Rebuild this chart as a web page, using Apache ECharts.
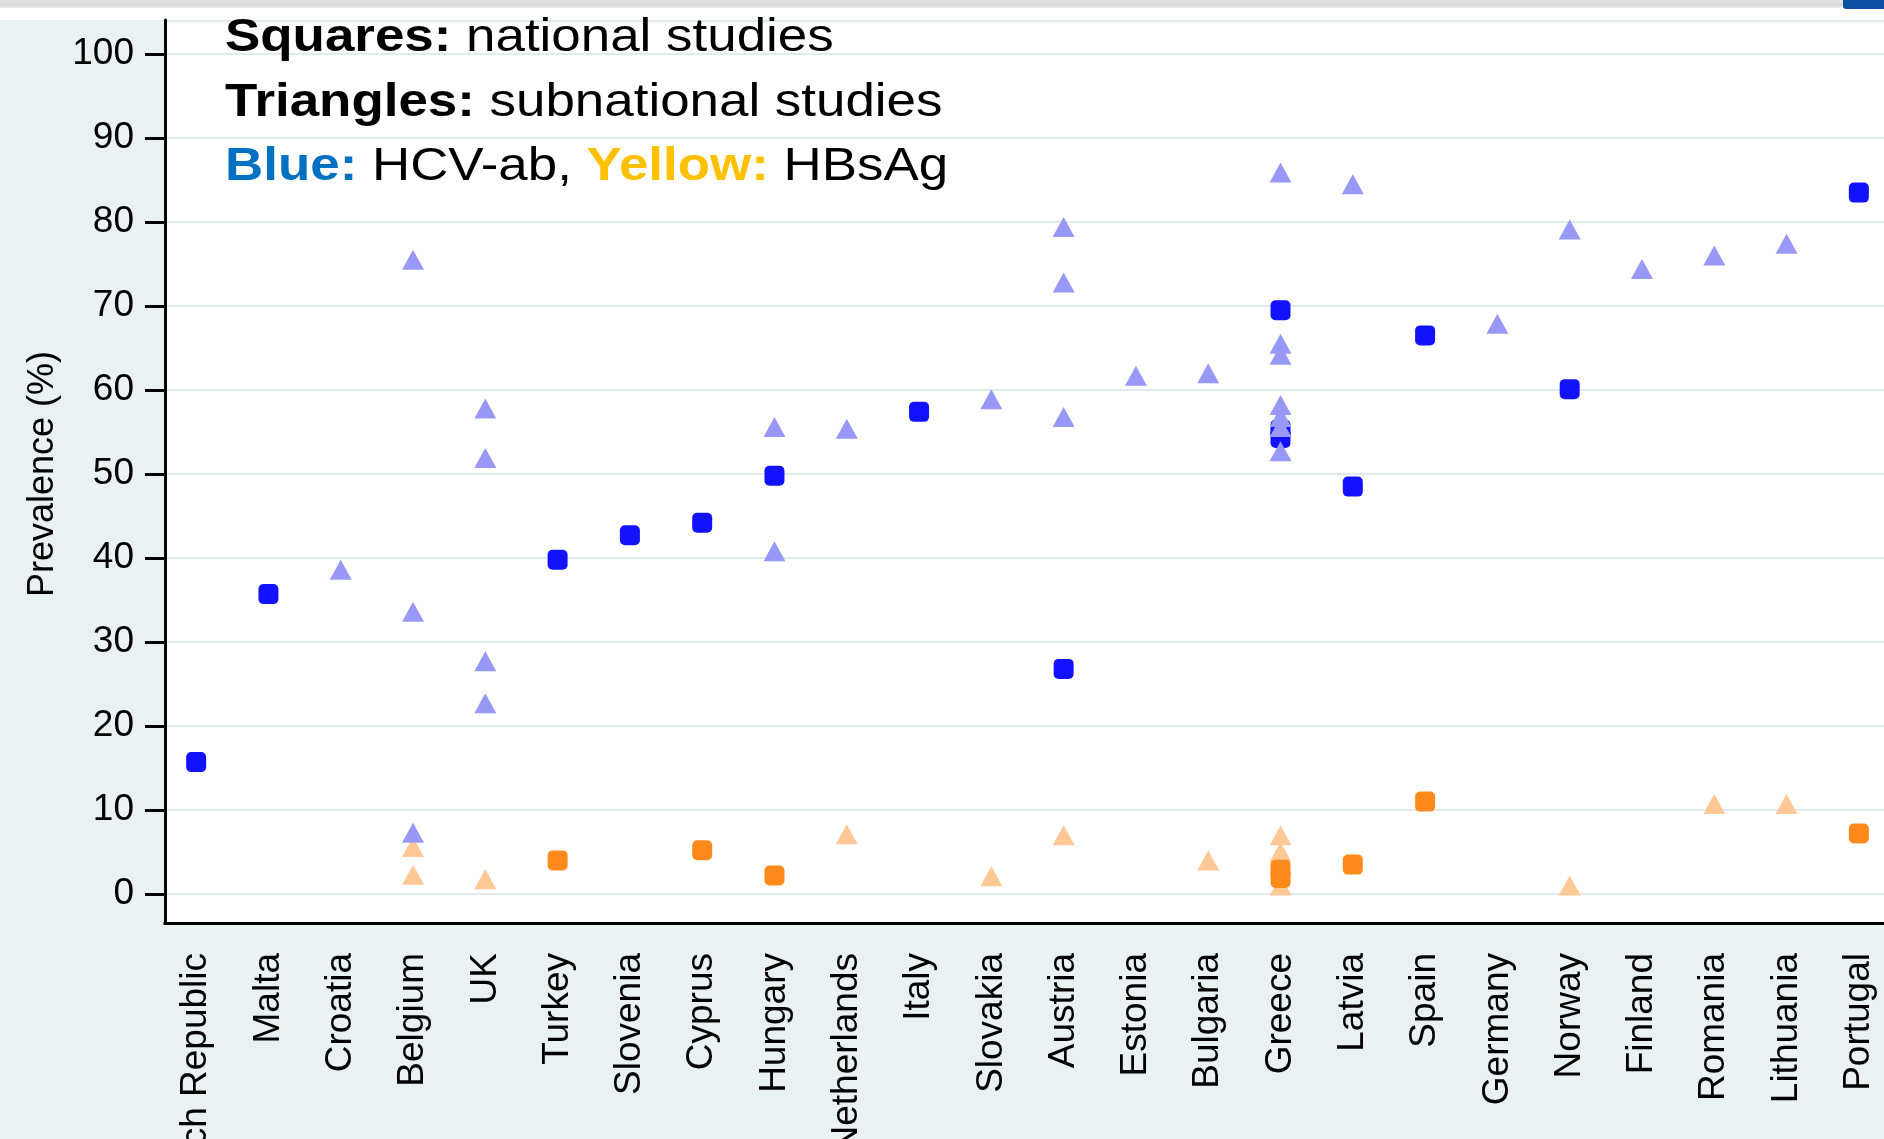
<!DOCTYPE html>
<html>
<head>
<meta charset="utf-8">
<script src="https://cdn.jsdelivr.net/npm/echarts@6/dist/echarts.min.js"></script>
<style>
  html, body { margin: 0; padding: 0; background: #fff; }
  #chart { width: 1884px; height: 1139px; }
</style>
</head>
<body>
<div id="chart"></div>
<script>
// countries along the x axis, left to right
const categories = ['Czech Republic', 'Malta', 'Croatia', 'Belgium', 'UK', 'Turkey', 'Slovenia', 'Cyprus',
  'Hungary', 'Netherlands', 'Italy', 'Slovakia', 'Austria', 'Estonia', 'Bulgaria', 'Greece', 'Latvia',
  'Spain', 'Germany', 'Norway', 'Finland', 'Romania', 'Lithuania', 'Portugal']

// y axis ticks
const yMin = 0
const yMax = 100
const yStep = 10

// HCV-ab, national studies (squares)
const hcvNational = [
  ['Czech Republic', 15.7], ['Malta', 35.7], ['Turkey', 39.8], ['Slovenia', 42.7], ['Cyprus', 44.2],
  ['Hungary', 49.8], ['Italy', 57.4], ['Austria', 26.8], ['Greece', 69.5], ['Greece', 55.3],
  ['Greece', 54.3], ['Latvia', 48.5], ['Spain', 66.5], ['Norway', 60.1], ['Portugal', 83.5]
]
// HCV-ab, subnational studies (triangles)
const hcvSubnational = [
  ['Croatia', 38.6], ['Belgium', 75.5], ['Belgium', 33.6], ['Belgium', 7.3],
  ['UK', 57.8], ['UK', 51.9], ['UK', 27.7], ['UK', 22.7], ['Hungary', 55.6], ['Hungary', 40.8],
  ['Netherlands', 55.4], ['Slovakia', 58.9], ['Austria', 79.4], ['Austria', 72.8], ['Austria', 56.8],
  ['Estonia', 61.7], ['Bulgaria', 62.0], ['Greece', 85.9], ['Greece', 65.5], ['Greece', 64.2],
  ['Greece', 58.2], ['Greece', 56.8], ['Greece', 55.6], ['Greece', 52.7], ['Latvia', 84.5],
  ['Germany', 67.9], ['Norway', 79.1], ['Finland', 74.4], ['Romania', 76.0], ['Lithuania', 77.4]
]
// HBsAg, national studies (squares)
const hbsNational = [
  ['Turkey', 4.0], ['Cyprus', 5.2], ['Hungary', 2.2], ['Greece', 2.9], ['Greece', 1.9],
  ['Latvia', 3.5], ['Spain', 11.0], ['Portugal', 7.2]
]
// HBsAg, subnational studies (triangles)
const hbsSubnational = [
  ['Belgium', 5.6], ['Belgium', 2.3], ['UK', 1.75], ['Netherlands', 7.1], ['Slovakia', 2.1],
  ['Austria', 7.0], ['Bulgaria', 4.0], ['Greece', 7.0], ['Greece', 5.0], ['Greece', 1.0],
  ['Norway', 1.0], ['Romania', 10.7], ['Lithuania', 10.7]
]

const font = 'Liberation Sans, Arial, sans-serif'
const gridLeft = 160
const gridWidth = 1735

const chart = echarts.init(document.getElementById('chart'))

const scatter = (name, data, symbol, size, color) => ({
  name: name,
  type: 'scatter',
  xAxisIndex: 1,
  yAxisIndex: 1,
  data: data,
  symbol: symbol,
  symbolSize: size,
  itemStyle: { color: color, opacity: 1 },
  silent: true,
})

// legend text is a bit stretched sideways in the original
const rich = {
  b: { fontSize: 46, fontWeight: 'bold', fontFamily: font, fill: '#000' },
  n: { fontSize: 46, fontFamily: font, fill: '#000' },
  blue: { fontSize: 46, fontWeight: 'bold', fontFamily: font, fill: '#0070C0' },
  yel: { fontSize: 46, fontWeight: 'bold', fontFamily: font, fill: '#FFC000' },
}

const legendLine = (y, text) => ({
  type: 'text',
  x: 225,
  y: y,
  scaleX: 1.15,
  z: 100,
  style: {
    text: text,
    rich: rich,
    fontSize: 46,
    fontFamily: font,
    fill: '#000',
    verticalAlign: 'middle',
  },
})

chart.setOption({
  backgroundColor: '#E9F1F2',
  animation: false,
  grid: [
    // outer frame: x axis line + y axis line
    { left: gridLeft, top: 20, width: gridWidth, height: 903, outerBoundsMode: 'none', containLabel: false },
    // value frame: 0..100
    { left: gridLeft, top: 54, width: gridWidth, height: 840, outerBoundsMode: 'none', containLabel: false },
  ],
  xAxis: [
    {
      gridIndex: 0,
      type: 'category',
      data: categories,
      boundaryGap: true,
      axisLine: { lineStyle: { color: '#000', width: 3 } },
      axisTick: { alignWithLabel: true, length: 20, lineStyle: { color: '#000', width: 3 } },
      axisLabel: { rotate: 90, interval: 0, margin: 30, fontSize: 37, fontFamily: font, color: '#000' },
      splitLine: { show: false },
    },
    {
      gridIndex: 1,
      type: 'category',
      data: categories,
      boundaryGap: true,
      show: false,
    },
  ],
  yAxis: [
    {
      gridIndex: 0,
      type: 'value',
      min: 0,
      max: 1,
      offset: -5,
      axisLine: { show: true, lineStyle: { color: '#000', width: 3 } },
      axisTick: { show: false },
      axisLabel: { show: false },
      splitLine: { show: false },
    },
    {
      gridIndex: 1,
      type: 'value',
      min: yMin,
      max: yMax,
      interval: yStep,
      offset: -5,
      name: 'Prevalence (%)',
      nameLocation: 'middle',
      nameGap: 99,
      nameTextStyle: { fontSize: 36, fontFamily: font, color: '#000' },
      axisLine: { show: false },
      axisTick: { show: true, length: 20, lineStyle: { color: '#000', width: 3 } },
      axisLabel: { margin: 31, fontSize: 37, fontFamily: font, color: '#000' },
      splitLine: { show: true, lineStyle: { color: '#E0EBED', width: 2 } },
    },
  ],
  graphic: [
    { type: 'rect', z: -10, shape: { x: 0, y: 0, width: 1884, height: 20 }, style: { fill: '#fff' } },
    {
      type: 'rect', z: -9, shape: { x: 0, y: 0, width: 1884, height: 8 },
      style: {
        fill: new echarts.graphic.LinearGradient(0, 0, 0, 1, [
          { offset: 0, color: '#E6E6E6' }, { offset: 0.6, color: '#D8D8D8' }, { offset: 1, color: '#EFEFEF' },
        ]),
      },
    },
    { type: 'rect', z: -8, shape: { x: 1843, y: 0, width: 41, height: 9, r: [0, 0, 0, 3] }, style: { fill: '#0B4FA3' } },
    { type: 'rect', z: -10, shape: { x: 165, y: 20, width: 1719, height: 903 }, style: { fill: '#fff' } },
    { type: 'line', z: -5, shape: { x1: 165, y1: 21, x2: 1884, y2: 21 }, style: { stroke: '#E0EBED', lineWidth: 2 } },
    // hide the few pixels of x axis line left of the y axis
    { type: 'rect', z: 200, shape: { x: 155, y: 918, width: 8.5, height: 10 }, style: { fill: '#E9F1F2' } },
    legendLine(38, '{b|Squares:}{n| national studies}'),
    legendLine(103, '{b|Triangles:}{n| subnational studies}'),
    legendLine(167, '{blue|Blue:}{n| HCV-ab, }{yel|Yellow:}{n| HBsAg}'),
  ],
  series: [
    scatter('HBsAg subnational', hbsSubnational, 'triangle', [22, 20], '#FFC896'),
    scatter('HBsAg national', hbsNational, 'roundRect', 20, '#FF8A1C'),
    scatter('HCV-ab national', hcvNational, 'roundRect', 20, '#1212FF'),
    scatter('HCV-ab subnational', hcvSubnational, 'triangle', [22, 20], '#9898F6'),
  ],
})
</script>
</body>
</html>
